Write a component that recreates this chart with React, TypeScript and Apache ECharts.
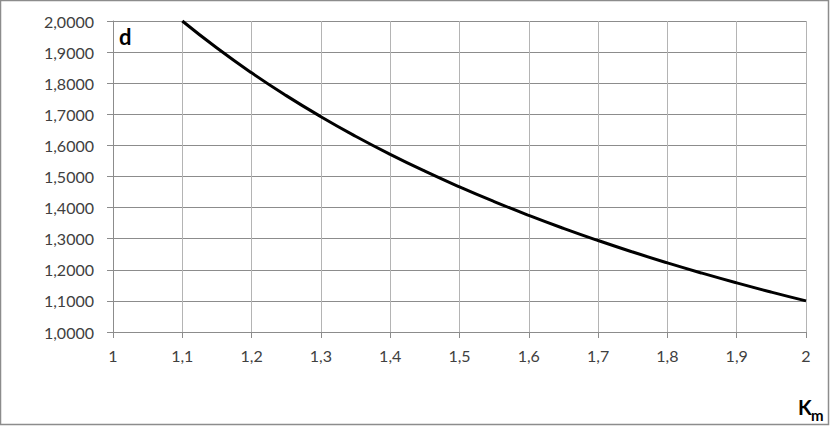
import React, { useEffect, useRef } from "react";
import * as echarts from "echarts";

const kmValues = [1.1, 1.15, 1.2, 1.25, 1.3, 1.35, 1.4, 1.45, 1.5, 1.55, 1.6, 1.65, 1.7, 1.75, 1.8, 1.85, 1.9, 1.95, 2.0];
const dValues = [2.0, 1.913, 1.8333, 1.76, 1.6923, 1.6296, 1.5714, 1.5172, 1.4667, 1.4194, 1.375, 1.3333, 1.2941, 1.2571, 1.2222, 1.1892, 1.1579, 1.1282, 1.1];
const xLabelName = "K";
const xLabelSub = "m";
const yLabelName = "d";

const FONT = "Lato";

export default function App() {
  const ref = useRef<HTMLDivElement>(null);
  useEffect(() => {
    document.body.style.margin = "0";
    const chart = echarts.init(ref.current!, null, { renderer: "svg" });
    const data = kmValues.map((k, i) => [k, dValues[i]]);
    chart.setOption({
      animation: false,
      backgroundColor: "#ffffff",
      grid: { left: 113, right: 24, top: 21, bottom: 94 },
      xAxis: {
        type: "value",
        min: 1,
        max: 2,
        interval: 0.1,
        axisLine: { show: true, lineStyle: { color: "#8c8c8c", width: 1 } },
        axisTick: { show: true, length: 6, lineStyle: { color: "#8c8c8c" } },
        axisLabel: {
          margin: 15,
          color: "#404040",
          fontFamily: FONT,
          fontSize: 16,
          formatter: (v: number) => {
            const r = Math.round(v * 10) / 10;
            return (Number.isInteger(r) ? String(r) : r.toFixed(1)).replace(".", ",");
          },
        },
        splitLine: { show: true, lineStyle: { color: "#b4b4b4", width: 1 } },
      },
      yAxis: {
        type: "value",
        min: 1,
        max: 2,
        interval: 0.1,
        axisLine: { show: true, lineStyle: { color: "#8c8c8c", width: 1 } },
        axisTick: { show: true, length: 6, lineStyle: { color: "#8c8c8c" } },
        axisLabel: {
          margin: 19,
          color: "#404040",
          fontFamily: FONT,
          fontSize: 16,
          formatter: (v: number) => v.toFixed(4).replace(".", ","),
        },
        splitLine: { show: true, lineStyle: { color: "#8c8c8c", width: 1 } },
      },
      series: [
        {
          type: "line",
          data,
          smooth: true,
          showSymbol: false,
          lineStyle: { color: "#000000", width: 3 },
          clip: false,
        },
      ],
      graphic: [
        {
          type: "rect",
          shape: { x: 0.5, y: 0.5, width: 828, height: 424 },
          style: { fill: "none", stroke: "#8c8c8c", lineWidth: 1.5 },
          silent: true,
        },
        {
          type: "text",
          x: 119,
          y: 25,
          style: { text: yLabelName, font: `bold 22px ${FONT}`, fill: "#000" },
        },
        {
          type: "text",
          x: 798,
          y: 397,
          style: { text: xLabelName, font: `bold 20px ${FONT}`, fill: "#000" },
        },
        {
          type: "text",
          x: 811,
          y: 407,
          style: { text: xLabelSub, font: `bold 15px ${FONT}`, fill: "#000" },
        },
      ],
    });
    return () => chart.dispose();
  }, []);
  return <div ref={ref} style={{ width: 830, height: 426 }} />;
}
